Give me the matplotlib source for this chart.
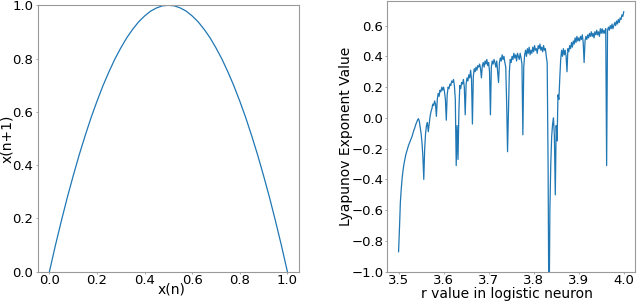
import matplotlib
matplotlib.use("Agg")
import matplotlib.pyplot as plt

# Left panel: logistic map values
xn = [0.000, 0.025, 0.050, 0.075, 0.100, 0.125, 0.150, 0.175, 0.200, 0.225,
      0.250, 0.275, 0.300, 0.325, 0.350, 0.375, 0.400, 0.425, 0.450, 0.475,
      0.500, 0.525, 0.550, 0.575, 0.600, 0.625, 0.650, 0.675, 0.700, 0.725,
      0.750, 0.775, 0.800, 0.825, 0.850, 0.875, 0.900, 0.925, 0.950, 0.975, 1.000]
xn1 = [0.000, 0.098, 0.190, 0.278, 0.360, 0.438, 0.510, 0.578, 0.640, 0.698,
       0.750, 0.798, 0.840, 0.878, 0.910, 0.938, 0.960, 0.978, 0.990, 0.998,
       1.000, 0.998, 0.990, 0.978, 0.960, 0.938, 0.910, 0.878, 0.840, 0.798,
       0.750, 0.698, 0.640, 0.578, 0.510, 0.438, 0.360, 0.278, 0.190, 0.098, 0.000]

# Right panel: Lyapunov exponent, r from 3.500 to 4.000 in steps of 0.002
r_start = 3.5
r_step = 0.002
lyap = [
    -0.87, -0.72, -0.55, -0.46, -0.39, -0.34, -0.30, -0.27, -0.24, -0.22,
    -0.20, -0.18, -0.165, -0.15, -0.135, -0.12, -0.10, -0.08, -0.065, -0.045,
    -0.03, -0.015, -0.005, -0.02, -0.06, -0.10, -0.16, -0.25, -0.40, -0.20,
    -0.10, -0.05, -0.03, -0.09, -0.04, 0.01, 0.04, 0.06, 0.09, 0.08,
    0.11, 0.09, 0.01, 0.12, 0.16, 0.14, 0.18, 0.17, 0.20, 0.18,
    0.20, 0.17, 0.12, -0.015, 0.15, 0.20, 0.19, 0.22, 0.21, 0.24,
    0.23, 0.25, 0.21, 0.12, -0.31, -0.05, -0.27, 0.05, 0.21, 0.19,
    0.23, 0.22, 0.25, 0.20, 0.02, 0.22, 0.26, 0.24, 0.28, 0.26,
    0.31, 0.25, -0.04, 0.27, 0.32, 0.30, 0.33, 0.31, 0.34, 0.33,
    0.35, 0.32, 0.26, 0.34, 0.36, 0.33, 0.37, 0.35, 0.38, 0.34,
    0.36, 0.30, 0.02, 0.33, 0.37, 0.35, 0.38, 0.36, 0.33, 0.37,
    0.30, 0.23, 0.36, 0.39, 0.37, 0.41, 0.38, 0.40, 0.36, 0.33,
    0.10, -0.22, 0.05, 0.30, 0.38, 0.36, 0.40, 0.38, 0.42, 0.39,
    0.41, 0.37, 0.42, 0.40, 0.38, 0.42, 0.39, 0.35, -0.11, 0.33,
    0.41, 0.44, 0.40, 0.45, 0.42, 0.46, 0.41, 0.44, 0.42, 0.46,
    0.43, 0.47, 0.44, 0.45, 0.42, 0.47, 0.45, 0.48, 0.44, 0.46,
    0.43, 0.47, 0.44, 0.45, 0.40, 0.36, -0.30, -1.40, -0.60, -0.30,
    -0.12, -0.04, 0.00, -0.12, -0.50, -0.05, -0.15, 0.15, 0.12, 0.26,
    0.38, 0.44, 0.40, 0.45, 0.41, 0.44, 0.40, 0.30, 0.45, 0.43,
    0.47, 0.45, 0.49, 0.46, 0.50, 0.48, 0.52, 0.49, 0.53, 0.50,
    0.52, 0.50, 0.53, 0.51, 0.54, 0.49, 0.36, 0.50, 0.53, 0.51,
    0.54, 0.52, 0.55, 0.53, 0.56, 0.53, 0.55, 0.52, 0.56, 0.54,
    0.57, 0.54, 0.56, 0.53, 0.58, 0.55, 0.58, 0.55, 0.57, 0.55,
    0.58, -0.31, 0.57, 0.59, 0.57, 0.60, 0.58, 0.61, 0.58, 0.60,
    0.62, 0.60, 0.63, 0.61, 0.64, 0.62, 0.65, 0.64, 0.67, 0.66,
    0.69,
]
r_vals = [r_start + i * r_step for i in range(len(lyap))]

left_xticks = [0.0, 0.2, 0.4, 0.6, 0.8, 1.0]
left_yticks = [0.0, 0.2, 0.4, 0.6, 0.8, 1.0]
right_xticks = [3.5, 3.6, 3.7, 3.8, 3.9, 4.0]
right_yticks = [-1.0, -0.8, -0.6, -0.4, -0.2, 0.0, 0.2, 0.4, 0.6]

line_color = "#1f77b4"
spine_color = "#9a9a9a"
tick_fs = 9.5
label_fs = 10

fig = plt.figure(figsize=(6.4, 3.02), dpi=100)
ax1 = fig.add_axes([37.5 / 640, 1 - 271.7 / 302, 261.8 / 640, 266.4 / 302])
ax2 = fig.add_axes([387.3 / 640, 1 - 271.7 / 302, 247.7 / 640, 270.7 / 302])

ax1.plot(xn, xn1, color=line_color, lw=0.9)
ax1.set_xlim(-0.05, 1.05)
ax1.set_ylim(0, 1)
ax1.set_xticks(left_xticks)
ax1.set_yticks(left_yticks)
ax1.set_xticklabels([f"{t:.1f}" for t in left_xticks])
ax1.set_yticklabels([f"{t:.1f}" for t in left_yticks])
ax1.set_xlabel("x(n)", fontsize=label_fs)
ax1.set_ylabel("x(n+1)", fontsize=label_fs)
ax1.xaxis.set_label_coords(0.513, -0.041)
ax1.yaxis.set_label_coords(-0.091, 0.5)

ax2.plot(r_vals, lyap, color=line_color, lw=0.9)
ax2.set_xlim(3.475, 4.025)
ax2.set_ylim(-1.0, 0.76)
ax2.set_xticks(right_xticks)
ax2.set_yticks(right_yticks)
ax2.set_xticklabels([f"{t:.1f}" for t in right_xticks])
ax2.set_yticklabels([f"{t:.1f}".replace("-", "\u2212") for t in right_yticks])
ax2.set_xlabel("r value in logistic neuron", fontsize=label_fs)
ax2.set_ylabel("Lyapunov Exponent Value", fontsize=label_fs)
ax2.xaxis.set_label_coords(0.482, -0.0565)
ax2.yaxis.set_label_coords(-0.138, 0.5)

for ax in (ax1, ax2):
    for s in ax.spines.values():
        s.set_color(spine_color)
        s.set_linewidth(0.8)
    ax.tick_params(axis="x", length=1.5, width=0.6, color=spine_color,
                   labelsize=tick_fs, pad=0.3)
    ax.tick_params(axis="y", length=1.5, width=0.6, color=spine_color,
                   labelsize=tick_fs, pad=1.4)

fig.savefig("out.png", dpi=100)
